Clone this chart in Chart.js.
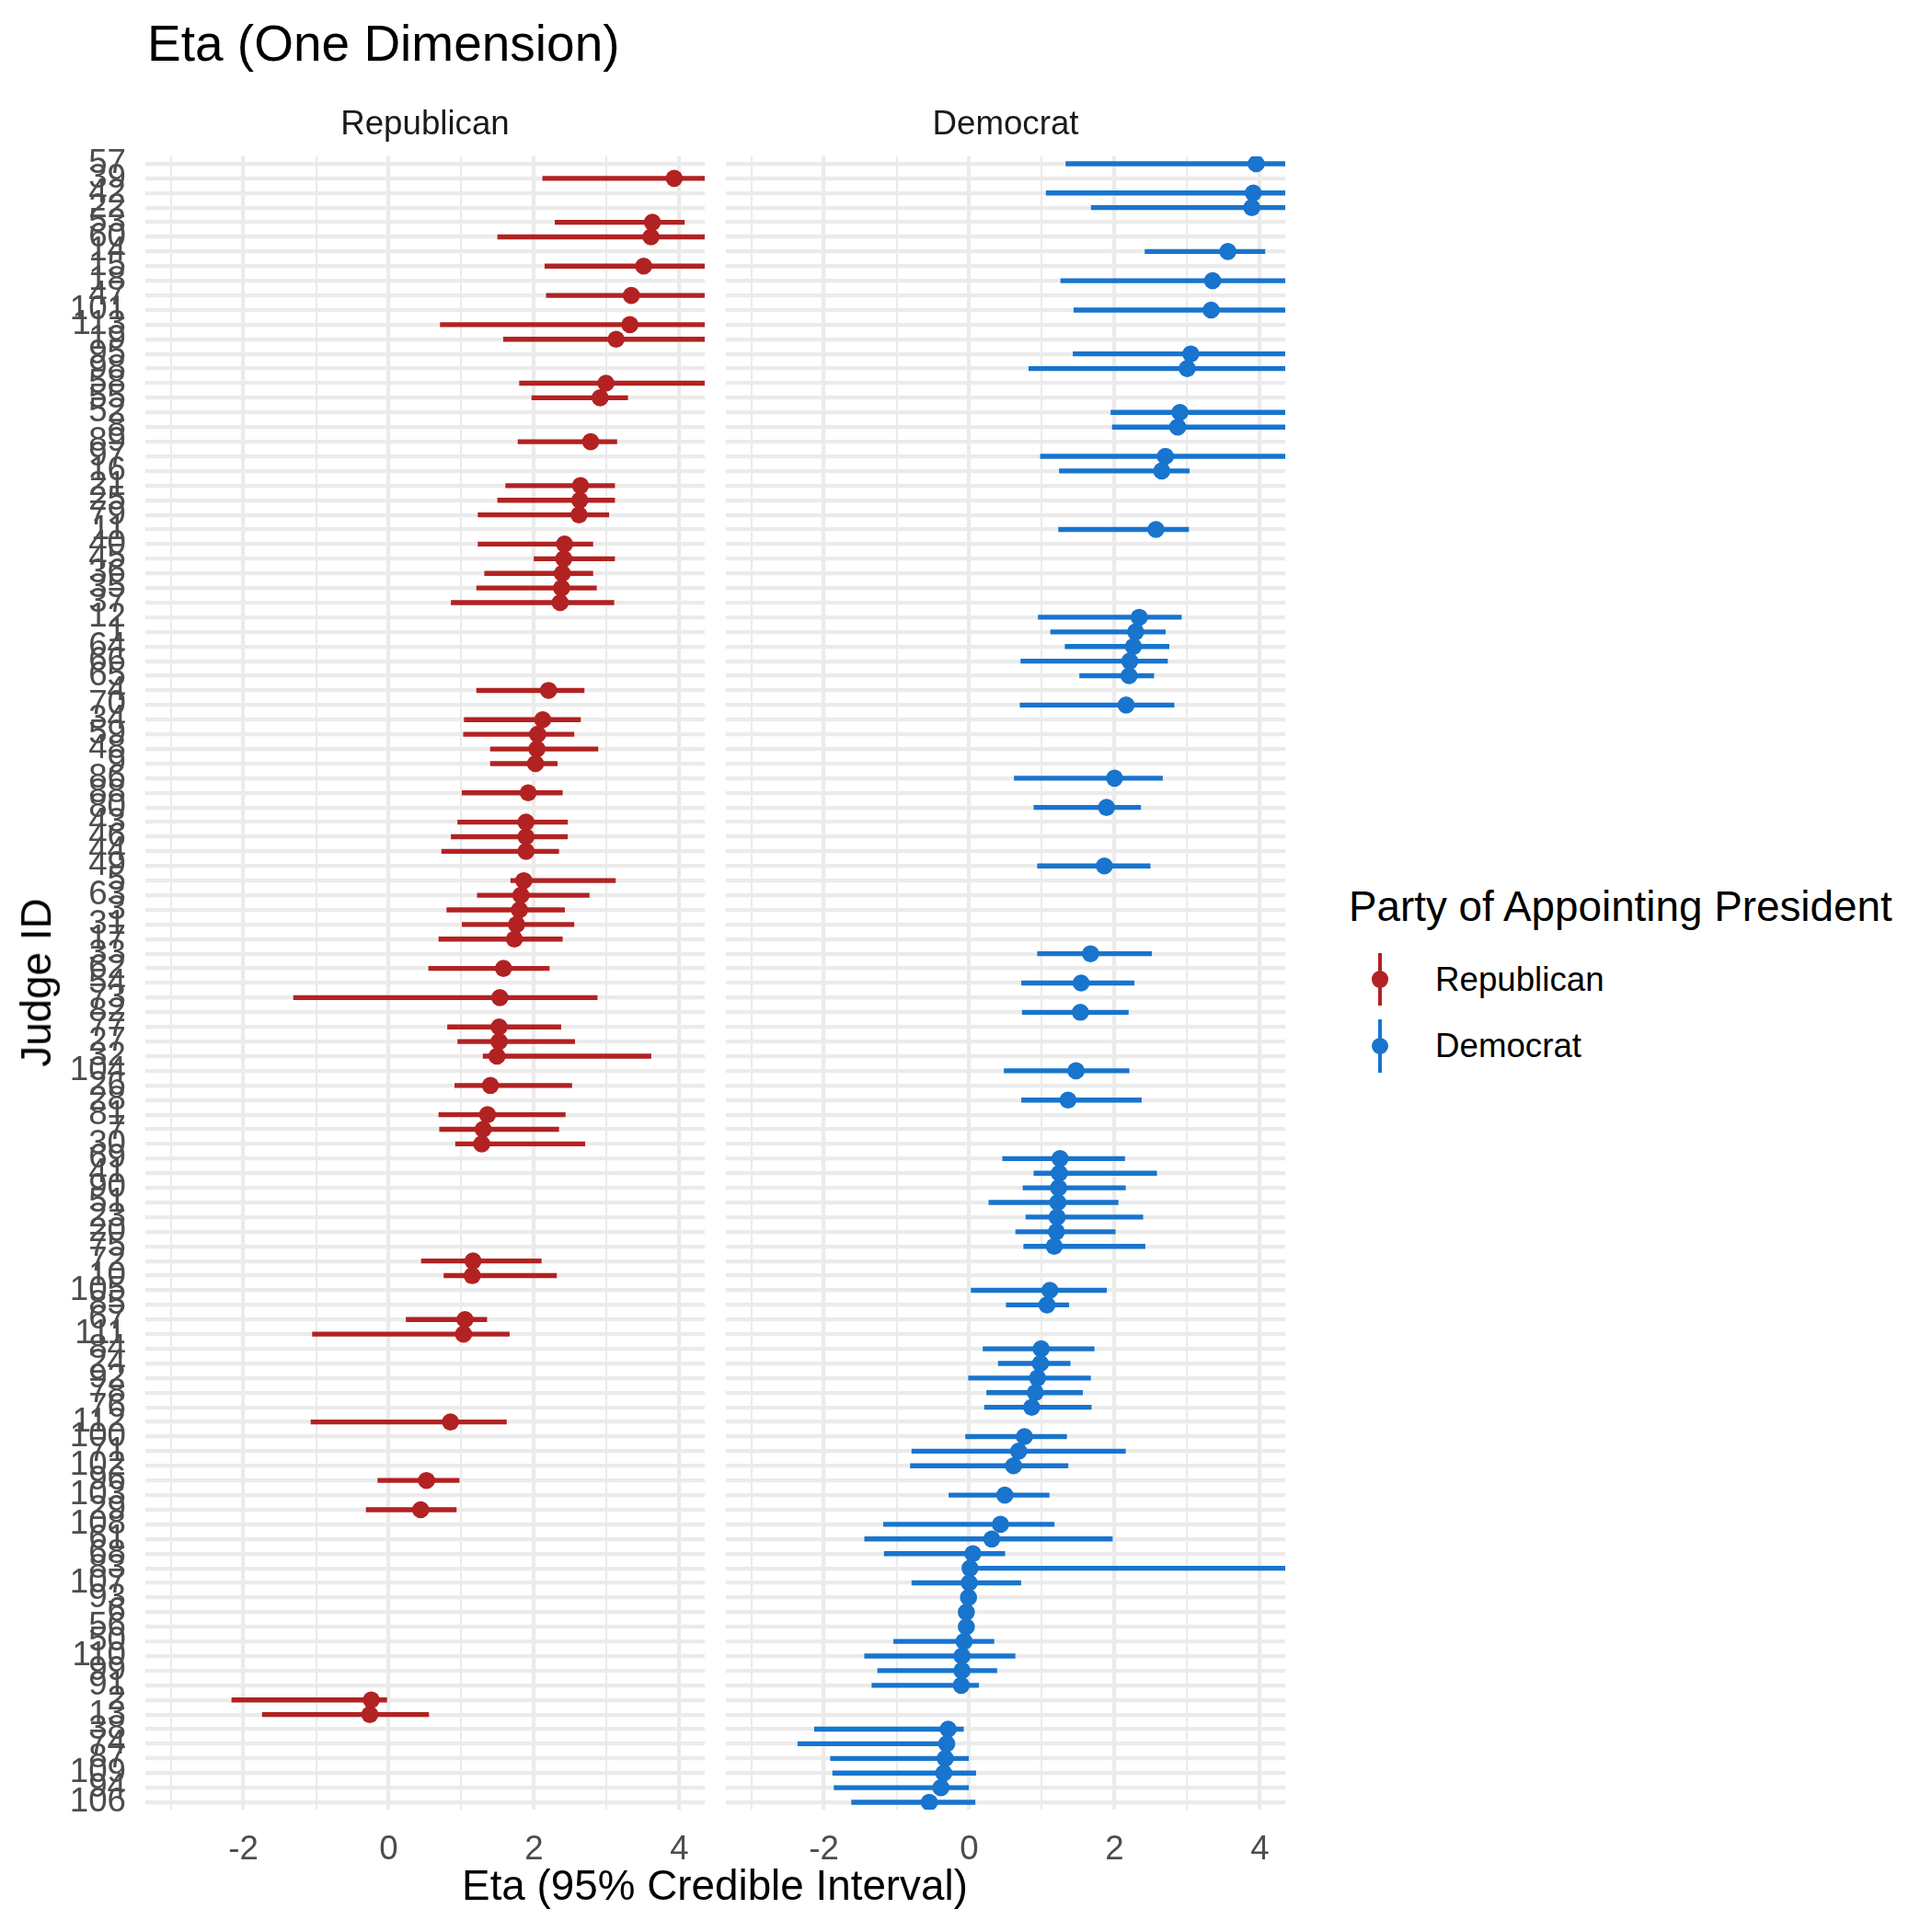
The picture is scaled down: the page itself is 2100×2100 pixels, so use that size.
<!DOCTYPE html>
<html><head><meta charset="utf-8">
<script src="https://cdn.jsdelivr.net/npm/chart.js@4.4.1/dist/chart.umd.min.js"></script>
<style>
html,body{margin:0;padding:0;background:#fff;}
#wrap{position:relative;width:2100px;height:2100px;background:#fff;font-family:"Liberation Sans",Arial,Helvetica,sans-serif;overflow:hidden;}
canvas{position:absolute;}
.t{position:absolute;white-space:nowrap;line-height:1;}
</style></head><body>
<div id="wrap">
 <canvas id="cR" width="796" height="1947" style="left:0px;top:110px"></canvas>
 <canvas id="cD" width="658" height="1947" style="left:769px;top:110px"></canvas>
 <div class="t" style="left:160px;top:20px;font-size:55px;color:#000">Eta (One Dimension)</div>
 <div class="t" id="stripR" style="left:462px;top:116px;font-size:36.7px;color:#1A1A1A;transform:translateX(-50%)"></div>
 <div class="t" id="stripD" style="left:1093px;top:116px;font-size:36.7px;color:#1A1A1A;transform:translateX(-50%)"></div>
 <div class="t" style="left:777px;top:2027px;font-size:45.8px;color:#000;transform:translateX(-50%)">Eta (95% Credible Interval)</div>
 <div class="t" style="left:40px;top:1068px;font-size:45.8px;color:#000;transform:translate(-50%,-50%) rotate(-90deg)">Judge ID</div>
 <div class="t" style="left:1466px;top:963px;font-size:45.8px;color:#000">Party of Appointing President</div>
 <div id="legend"></div>
</div>
<script>
// ---- data (rows listed top to bottom, sorted by eta) ----
const judgeIds = ["57","39","42","22","53","60","14","15","18","47","101","113","19","95","98","58","55","52","8","89",
 "97","16","21","25","79","11","40","45","36","35","37","12","1","64","66","65","4","70","34","59",
 "48","9","86","88","80","43","46","44","49","5","63","3","31","17","33","62","54","73","82","77",
 "27","32","104","26","28","81","7","30","69","41","90","51","23","20","75","72","10","105","85","67",
 "111","84","24","92","78","76","112","100","71","102","96","103","29","108","61","68","83","107","93","6",
 "56","50","110","99","91","2","13","38","74","87","109","94","106"];
const party = ["D","R","D","D","R","R","D","R","D","R","D","R","R","D","D","R","R","D","D","R",
 "D","D","R","R","R","D","R","R","R","R","R","D","D","D","D","D","R","D","R","R",
 "R","R","D","R","D","R","R","R","D","R","R","R","R","R","D","R","D","R","D","R",
 "R","R","D","R","D","R","R","R","D","D","D","D","D","D","D","R","R","D","D","R",
 "R","D","D","D","D","D","R","D","D","D","R","D","R","D","D","D","D","D","D","D",
 "D","D","D","D","D","R","R","D","D","D","D","D","D"];
const eta = [3.95,3.93,3.91,3.89,3.63,3.61,3.56,3.51,3.35,3.34,3.33,3.32,3.13,3.05,3.00,2.99,2.91,2.90,2.87,2.78,
 2.70,2.65,2.64,2.63,2.62,2.57,2.42,2.41,2.39,2.38,2.36,2.34,2.29,2.26,2.21,2.20,2.20,2.16,2.12,2.05,
 2.04,2.02,2.00,1.92,1.89,1.89,1.89,1.89,1.86,1.86,1.82,1.80,1.76,1.73,1.67,1.58,1.54,1.53,1.53,1.52,
 1.52,1.49,1.47,1.40,1.36,1.36,1.30,1.28,1.25,1.24,1.23,1.22,1.21,1.20,1.17,1.16,1.15,1.11,1.07,1.05,
 1.03,0.99,0.98,0.94,0.91,0.86,0.85,0.76,0.68,0.61,0.52,0.49,0.44,0.43,0.31,0.05,0.01,0.00,-0.01,-0.04,
 -0.04,-0.07,-0.10,-0.10,-0.11,-0.24,-0.26,-0.29,-0.31,-0.33,-0.35,-0.39,-0.55];
const lower = [1.33,2.12,1.06,1.68,2.29,1.50,2.42,2.15,1.26,2.17,1.44,0.71,1.58,1.43,0.82,1.80,1.97,1.95,1.97,1.78,
 0.98,1.24,1.61,1.50,1.23,1.23,1.23,2.00,1.32,1.21,0.86,0.95,1.12,1.32,0.71,1.52,1.21,0.70,1.04,1.03,
 1.40,1.40,0.62,1.01,0.89,0.95,0.86,0.73,0.94,1.68,1.22,0.80,1.01,0.69,0.94,0.55,0.72,-1.31,0.73,0.81,
 0.95,1.30,0.48,0.91,0.72,0.69,0.70,0.92,0.46,0.89,0.74,0.27,0.78,0.64,0.75,0.45,0.76,0.00,0.51,0.24,
 -1.05,0.19,0.40,-0.01,0.24,0.21,-1.07,-0.05,-0.79,-0.81,-0.15,-0.28,-0.31,-1.18,-1.44,-1.17,-0.02,-0.79,-0.01,-0.04,
 -0.04,-1.04,-1.44,-1.26,-1.34,-2.16,-1.74,-2.13,-2.36,-1.91,-1.88,-1.86,-1.62];
const upper = [4.90,5.20,5.30,4.80,4.07,5.10,4.07,4.90,5.00,4.80,4.90,5.30,4.70,4.60,4.90,4.50,3.29,4.50,4.40,3.14,
 4.60,3.03,3.11,3.11,3.03,3.02,2.81,3.11,2.81,2.86,3.10,2.92,2.70,2.75,2.73,2.54,2.69,2.82,2.64,2.55,
 2.88,2.32,2.66,2.39,2.36,2.46,2.46,2.34,2.49,3.12,2.76,2.42,2.55,2.39,2.51,2.21,2.27,2.87,2.19,2.37,
 2.56,3.61,2.20,2.52,2.37,2.43,2.34,2.70,2.14,2.58,2.15,2.05,2.39,2.01,2.42,2.10,2.31,1.89,1.37,1.35,
 1.66,1.72,1.39,1.67,1.56,1.68,1.62,1.34,2.15,1.36,0.97,1.10,0.93,1.17,1.97,0.49,5.00,0.71,-0.01,-0.04,
 -0.04,0.34,0.63,0.38,0.13,0.00,0.55,-0.08,-0.20,-0.01,0.09,-0.01,0.08];
const panels = ["Republican", "Democrat"];
const panelCodes = ["R", "D"];
const partyColors = ["#B22222", "#1874CD"];
const xTickLabels = [-2, 0, 2, 4];
const xLimits = [-3.35, 4.35];

const FONT = '"Liberation Sans", Arial, Helvetica, sans-serif';

function makeChart(id, p, showY) {
  const code = panelCodes[p];
  const col = partyColors[p];
  const bars = judgeIds.map((_, i) => party[i] === code ? [lower[i], upper[i]] : null);
  const pts = judgeIds.map((_, i) => party[i] === code ? eta[i] : null);
  return new Chart(document.getElementById(id), {
    type: 'bar',
    data: {
      labels: judgeIds,
      datasets: [
        { type: 'line', indexAxis: 'y', label: panels[p], data: pts, showLine: false,
          pointRadius: 9.3, pointHoverRadius: 9.3, pointBackgroundColor: col, pointBorderWidth: 0,
          borderColor: col, backgroundColor: col, order: 0, clip: 0 },
        { type: 'bar', label: panels[p], data: bars, backgroundColor: col, borderWidth: 0,
          barThickness: 4.7, order: 1, clip: 0 }
      ]
    },
    options: {
      indexAxis: 'y', responsive: false, animation: false, devicePixelRatio: 1, events: [],
      layout: { padding: showY ? { top: 60, left: 0, right: 30, bottom: 0 } : { top: 60, left: 20, right: 30, bottom: 0 } },
      plugins: { legend: { display: false }, tooltip: { enabled: false } },
      scales: {
        x: {
          type: 'linear', min: xLimits[0], max: xLimits[1], position: 'bottom',
          border: { display: false },
          grid: { color: '#EBEBEB', drawTicks: false,
                  lineWidth: c => (Math.abs(Math.round(c.tick.value)) % 2 === 0 ? 4.2 : 2.1) },
          ticks: { stepSize: 1, includeBounds: false, autoSkip: false, maxRotation: 0, minRotation: 0,
                   padding: 22, color: '#4D4D4D', font: { family: FONT, size: 36.7 },
                   callback: v => xTickLabels.includes(Math.round(v)) ? String(Math.round(v)) : '' },
          afterFit: s => { s.height = 90; }
        },
        y: {
          type: 'category', offset: true, border: { display: false },
          grid: { color: '#EBEBEB', lineWidth: 4.2, drawTicks: false, offset: false },
          ticks: { display: showY, autoSkip: false, padding: 21, color: '#4D4D4D',
                   font: { family: FONT, size: 36.7 } },
          afterFit: s => { s.width = showY ? 158 : 0; }
        }
      }
    }
  });
}

makeChart('cR', 0, true);
makeChart('cD', 1, false);

document.getElementById('stripR').textContent = panels[0];
document.getElementById('stripD').textContent = panels[1];

// legend
const lg = document.getElementById('legend');
panels.forEach((name, k) => {
  const cy = 1064.5 + k * 72.5;
  const line = document.createElement('div');
  line.style.cssText = `position:absolute;left:${1500 - 2.35}px;top:${cy - 28.8}px;width:4.7px;height:57.6px;background:${partyColors[k]}`;
  const dot = document.createElement('div');
  dot.style.cssText = `position:absolute;left:${1500 - 9.3}px;top:${cy - 9.3}px;width:18.6px;height:18.6px;border-radius:50%;background:${partyColors[k]}`;
  const txt = document.createElement('div');
  txt.className = 't';
  txt.style.cssText = `left:1560px;top:${cy - 18}px;font-size:36.7px;color:#000`;
  txt.textContent = name;
  lg.appendChild(line); lg.appendChild(dot); lg.appendChild(txt);
});
</script>
</body></html>
